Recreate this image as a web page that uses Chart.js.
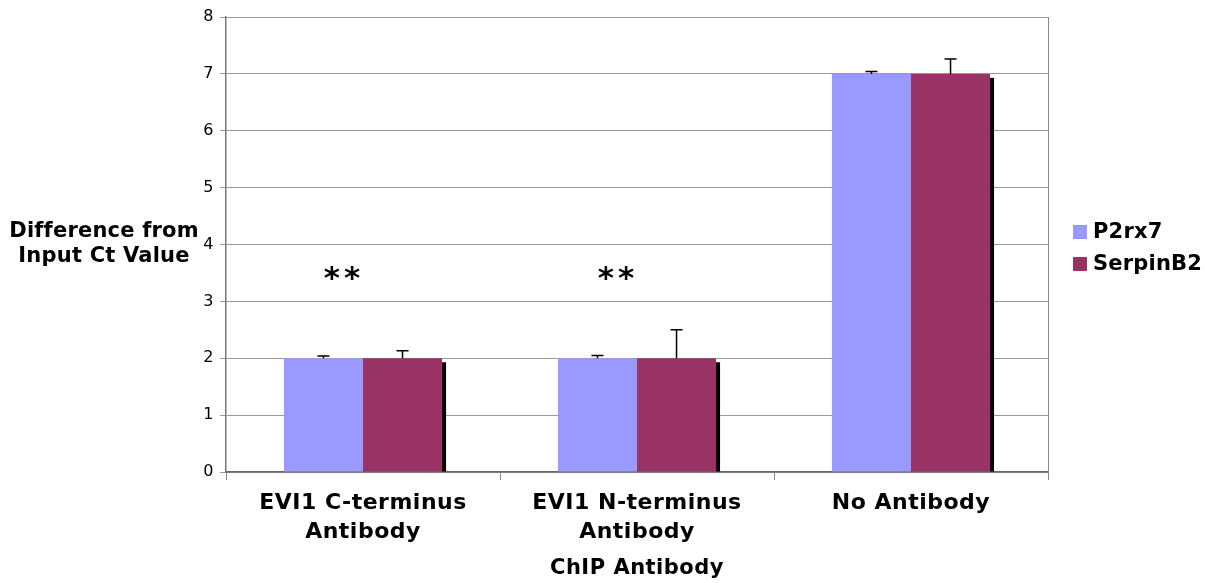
<!DOCTYPE html>
<html>
<head>
<meta charset="utf-8">
<script src="https://cdn.jsdelivr.net/npm/chart.js@4/dist/chart.umd.min.js"></script>
<style>
  html, body { margin: 0; padding: 0; background: #fff; }
  #wrap { width: 1205px; height: 583px; position: relative; }
</style>
</head>
<body>
<div id="wrap"><canvas id="c" width="1205" height="583"></canvas></div>
<script>
// ChIP enrichment: difference from input Ct value per antibody
const categories = [["EVI1 C-terminus", "Antibody"], ["EVI1 N-terminus", "Antibody"], ["No Antibody"]];
const p2rx7 = [2.0, 2.0, 7.0];
const serpinB2 = [2.0, 2.0, 7.0];
const p2rx7Err = [0.04, 0.05, 0.04];
const serpinB2Err = [0.13, 0.5, 0.26];
const significance = ["**", "**", ""];
const yTicks = [0, 1, 2, 3, 4, 5, 6, 7, 8];

const FONT = "'DejaVu Sans', Verdana, sans-serif";

// slightly wider tracking for the bold axis labels
const tracking = {
  id: 'tracking',
  beforeDraw(chart) { chart.ctx.letterSpacing = '0.5px'; },
  beforeDatasetsDraw(chart) { chart.ctx.letterSpacing = '0px'; }
};

const errorBars = {
  id: 'errorBars',
  afterDatasetsDraw(chart) {
    const ctx = chart.ctx;
    const y = chart.scales.y;
    const errs = [p2rx7Err, serpinB2Err];
    ctx.save();
    ctx.strokeStyle = '#000';
    ctx.lineWidth = 1.5;
    chart.data.datasets.forEach((ds, di) => {
      const meta = chart.getDatasetMeta(di);
      meta.data.forEach((bar, i) => {
        const top = y.getPixelForValue(ds.data[i] + errs[di][i]);
        ctx.beginPath();
        ctx.moveTo(bar.x, bar.y);
        ctx.lineTo(bar.x, top);
        ctx.moveTo(bar.x - 6, top);
        ctx.lineTo(bar.x + 6, top);
        ctx.stroke();
      });
    });
    ctx.restore();
  }
};

const barShadow = {
  id: 'barShadow',
  beforeDatasetsDraw(chart) {
    const ctx = chart.ctx;
    const meta = chart.getDatasetMeta(1);
    ctx.save();
    ctx.fillStyle = '#000';
    meta.data.forEach(bar => {
      const right = bar.x + bar.width / 2;
      ctx.fillRect(right, bar.y + 4, 4, bar.base - bar.y - 4);
    });
    ctx.restore();
  }
};

const decorations = {
  id: 'decorations',
  afterDraw(chart) {
    const ctx = chart.ctx;
    const a = chart.chartArea;
    const x = chart.scales.x;
    const y = chart.scales.y;
    ctx.save();
    // plot frame right edge
    ctx.strokeStyle = '#888';
    ctx.lineWidth = 1;
    ctx.beginPath();
    ctx.moveTo(a.right + 0.5, a.top);
    ctx.lineTo(a.right + 0.5, a.bottom);
    ctx.stroke();

    // significance marks
    ctx.fillStyle = '#000';
    ctx.font = "bold 31px " + FONT;
    ctx.letterSpacing = '4px';
    ctx.textAlign = 'center';
    ctx.textBaseline = 'middle';
    significance.forEach((s, i) => {
      if (s) ctx.fillText(s, x.getPixelForValue(i) - 19, y.getPixelForValue(3.38));
    });

    // y axis title (horizontal)
    ctx.font = "bold 21px " + FONT;
    ctx.letterSpacing = '0.2px';
    ctx.textAlign = 'center';
    ctx.fillText('Difference from', 104, 232);
    ctx.fillText('Input Ct Value', 104, 257);

    // legend
    const items = [['P2rx7', '#9999FF'], ['SerpinB2', '#993366']];
    ctx.textAlign = 'left';
    items.forEach((it, i) => {
      const cy = 232 + i * 32;
      ctx.fillStyle = it[1];
      ctx.fillRect(1073, cy - 7, 14, 14);
      ctx.fillStyle = '#000';
      ctx.fillText(it[0], 1093, cy + 1);
    });
    ctx.restore();
  }
};

new Chart(document.getElementById('c'), {
  type: 'bar',
  data: {
    labels: categories,
    datasets: [
      { label: 'P2rx7', data: p2rx7, backgroundColor: '#9999FF' },
      { label: 'SerpinB2', data: serpinB2, backgroundColor: '#993366' }
    ]
  },
  options: {
    responsive: false,
    animation: false,
    devicePixelRatio: 1,
    layout: { padding: { top: 17, right: 157, left: 0, bottom: 0 } },
    datasets: { bar: { categoryPercentage: 0.577, barPercentage: 1.0 } },
    plugins: { legend: { display: false }, tooltip: { enabled: false } },
    scales: {
      x: {
        offset: true,
        grid: { display: true, offset: true, drawOnChartArea: false, drawTicks: true, tickLength: 8, color: '#888' },
        border: { color: '#666', width: 1.5 },
        ticks: { color: '#000', font: { family: FONT, size: 22, weight: 'bold', lineHeight: 1.32 }, padding: 9, maxRotation: 0, autoSkip: false },
        title: { display: true, text: 'ChIP Antibody', color: '#000', font: { family: FONT, size: 21, weight: 'bold' }, padding: { top: 4, bottom: 2 } },
        afterFit(s) { s.height = 111; }
      },
      y: {
        min: 0, max: 8,
        afterBuildTicks(s) { s.ticks = yTicks.map(v => ({ value: v })); },
        grid: { color: '#999', tickLength: 6, lineWidth: 1 },
        border: { color: '#777', width: 1.5 },
        ticks: { color: '#000', font: { family: FONT, size: 16 }, padding: 6 },
        afterFit(s) { s.width = 226; }
      }
    }
  },
  plugins: [tracking, barShadow, errorBars, decorations]
});
</script>
</body>
</html>
